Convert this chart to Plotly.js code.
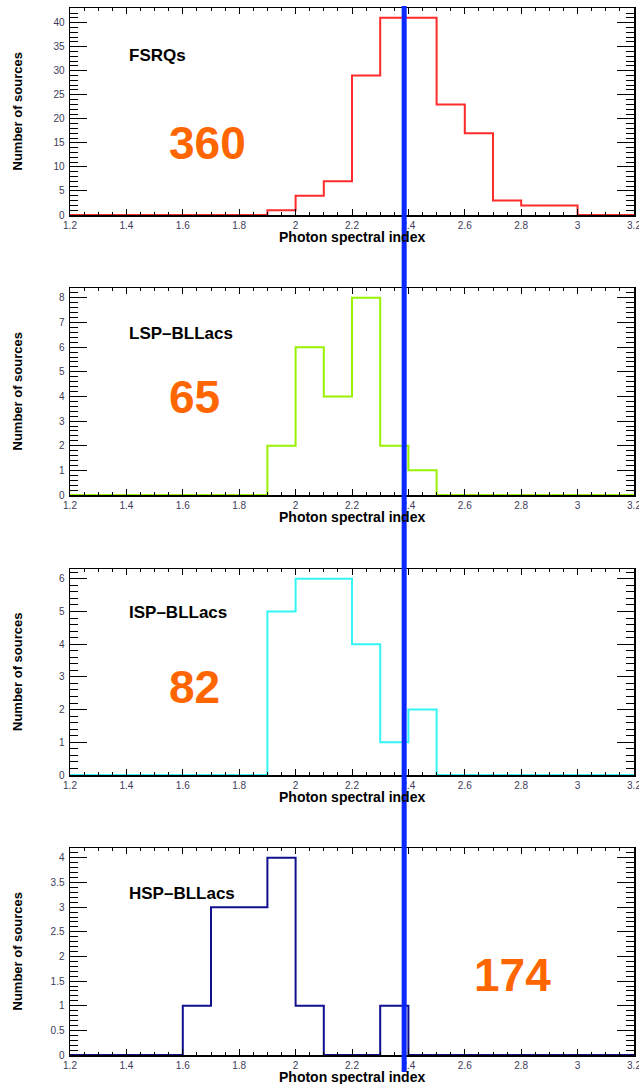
<!DOCTYPE html>
<html>
<head>
<meta charset="utf-8">
<script src="https://cdn.plot.ly/plotly-3.0.1.min.js"></script>
<style>html,body{margin:0;padding:0;background:#fff;}#chart{width:639px;height:1084px;}</style>
</head>
<body>
<div id="chart"></div>
<script>
// Bin edges of photon spectral index (bin width 0.1)
const binEdges = [1.2,1.3,1.4,1.5,1.6,1.7,1.8,1.9,2.0,2.1,2.2,2.3,2.4,2.5,2.6,2.7,2.8,2.9,3.0,3.1,3.2];
// Counts per bin (20 bins)
const fsrqCounts = [0,0,0,0,0,0,0,1,4,7,29,41,41,23,17,3,2,2,0,0];
const lspCounts  = [0,0,0,0,0,0,0,2,6,4,8,2,1,0,0,0,0,0,0,0];
const ispCounts  = [0,0,0,0,0,0,0,5,6,6,4,1,2,0,0,0,0,0,0,0];
const hspCounts  = [0,0,0,0,1,3,3,4,1,0,0,1,0,0,0,0,0,0,0,0];
const classNames = ["FSRQs","LSP\u2013BLLacs","ISP\u2013BLLacs","HSP\u2013BLLacs"];
const totals = ["360","65","82","174"];
const xTickVals = [1.2,1.4,1.6,1.8,2.0,2.2,2.4,2.6,2.8,3.0,3.2];
const xTickText = ["1.2","1.4","1.6","1.8","2","2.2","2.4","2.6","2.8","3","3.2"];
const xTitle = "Photon spectral index";
const yTitle = "Number of sources";
const cutIndex = 2.385;

const W = 639, H = 1084;
const px = x => x / W;
const py = y => 1 - y / H;

const panels = [
  {counts: fsrqCounts, color: '#ff2a2a', top: 8,   bottom: 215,  ymax: 43.05, dtick: 5,   minor: 1,   label: [127, 55],  num: [207, 143]},
  {counts: lspCounts,  color: '#99f200', top: 288, bottom: 495,  ymax: 8.4,   dtick: 1,   minor: 0.2, label: [127, 334], num: [194, 397]},
  {counts: ispCounts,  color: '#33f5f5', top: 569, bottom: 775,  ymax: 6.3,   dtick: 1,   minor: 0.2, label: [127, 613], num: [194, 687]},
  {counts: hspCounts,  color: '#10108f', top: 848, bottom: 1055, ymax: 4.2,   dtick: 0.5, minor: 0.1, label: [127, 893], num: [512, 975]}
];

const font = "Liberation Sans, Arial, Helvetica, sans-serif";
const traces = [];
const layout = {
  width: W, height: H,
  margin: {l: 0, r: 0, t: 0, b: 0},
  paper_bgcolor: '#ffffff', plot_bgcolor: '#ffffff',
  showlegend: false,
  font: {family: font, color: '#000'},
  annotations: [], shapes: []
};

panels.forEach((p, i) => {
  const k = i === 0 ? '' : String(i + 1);
  const xs = binEdges.slice();
  const ys = p.counts.concat([p.counts[p.counts.length - 1]]);
  traces.push({
    type: 'scatter', mode: 'lines', x: xs, y: ys,
    xaxis: 'x' + k, yaxis: 'y' + k,
    line: {shape: 'hv', color: p.color, width: 2},
    hoverinfo: 'skip'
  });
  layout['xaxis' + k] = {
    domain: [px(70), px(634)], anchor: 'y' + k,
    range: [1.2, 3.2], tickmode: 'array', tickvals: xTickVals, ticktext: xTickText,
    ticks: 'inside', ticklen: 6, tickwidth: 1, tickcolor: '#000',
    minor: {ticks: 'inside', ticklen: 3, tick0: 1.2, dtick: 0.05, tickcolor: '#000', tickwidth: 1, showgrid: false},
    showline: true, linecolor: '#000', linewidth: 1.5, mirror: 'ticks',
    showgrid: false, zeroline: false,
    tickfont: {size: 10, color: '#3a3a58', family: font},
    ticklabelstandoff: 0, ticklabeloverflow: 'allow'
  };
  layout['yaxis' + k] = {
    domain: [py(p.bottom), py(p.top)], anchor: 'x' + k,
    range: [0, p.ymax], tick0: 0, dtick: p.dtick,
    ticks: 'inside', ticklen: 17, tickwidth: 1, tickcolor: '#000',
    minor: {ticks: 'inside', ticklen: 8, dtick: p.minor, tickcolor: '#000', tickwidth: 1, showgrid: false},
    showline: true, linecolor: '#000', linewidth: 1.5, mirror: 'ticks',
    showgrid: false, zeroline: false,
    tickfont: {size: 10, color: '#3a3a58', family: font},
    ticklabelstandoff: 2, ticklabeloverflow: 'allow'
  };
  layout.annotations.push({
    xref: 'paper', yref: 'paper', x: px(17), y: py((p.top + p.bottom) / 2),
    text: '<b>' + yTitle + '</b>', textangle: -90, showarrow: false,
    xanchor: 'center', yanchor: 'middle', font: {size: 13, color: '#000', family: font}
  });
  layout.annotations.push({
    xref: 'paper', yref: 'paper', x: px(427), y: py(p.bottom + 22),
    text: '<b>' + xTitle + '</b>', showarrow: false,
    xanchor: 'right', yanchor: 'middle', font: {size: 14, color: '#000', family: font}
  });
  layout.annotations.push({
    xref: 'paper', yref: 'paper', x: px(p.label[0]), y: py(p.label[1]),
    text: '<b>' + classNames[i] + '</b>', showarrow: false,
    xanchor: 'left', yanchor: 'middle', font: {size: 17, color: '#000', family: font}
  });
  layout.annotations.push({
    xref: 'paper', yref: 'paper', x: px(p.num[0]), y: py(p.num[1]),
    text: '<b>' + totals[i] + '</b>', showarrow: false,
    xanchor: 'center', yanchor: 'middle', font: {size: 46, color: '#ff6600', family: font}
  });
});

layout.shapes.push({
  type: 'line', xref: 'x4', yref: 'paper',
  x0: cutIndex, x1: cutIndex, y0: py(1072), y1: py(6),
  line: {color: '#0a28ff', width: 5}, layer: 'above'
});

Plotly.newPlot('chart', traces, layout, {staticPlot: true, displayModeBar: false});
</script>
</body>
</html>
